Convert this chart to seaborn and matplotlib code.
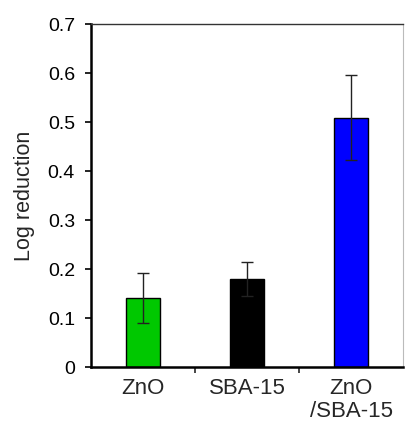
import numpy as np
import pandas as pd
import matplotlib
matplotlib.use("Agg")
import matplotlib.pyplot as plt
import seaborn as sns
from matplotlib.ticker import FixedLocator

# data
samples = ["ZnO", "SBA-15", "ZnO\n/SBA-15"]
log_reduction = [0.142, 0.180, 0.509]
err = [0.051, 0.035, 0.087]
bar_colors = ["#00c800", "#000000", "#0000ff"]

sns.set_theme(style="white")
plt.rcParams['font.family'] = ['Liberation Sans', 'DejaVu Sans']

df = pd.DataFrame({"sample": samples, "val": log_reduction})

fig, ax = plt.subplots(figsize=(4.06, 4.23), dpi=100)
fig.subplots_adjust(left=0.224, right=0.993, top=0.943, bottom=0.132)

sns.barplot(data=df, x="sample", y="val", hue="sample", palette=bar_colors,
            saturation=1, width=0.32, edgecolor="black", linewidth=1.0,
            legend=False, ax=ax)
ax.errorbar(np.arange(len(samples)), log_reduction, yerr=err, fmt="none",
            ecolor="#222222", elinewidth=1.0, capsize=4, capthick=1.0)

ax.set_xlim(-0.5, 2.5)
ax.set_ylim(0, 0.7)
ax.set_yticks(np.arange(0, 0.71, 0.1))
ax.set_yticklabels(["0"] + [f"{v:.1f}" for v in np.arange(0.1, 0.71, 0.1)])
ax.set_xlabel("")
ax.set_ylabel("Log reduction", fontsize=15.5, labelpad=9)

ax.tick_params(axis="y", direction="out", length=4.5, width=1.2, left=True,
               labelsize=14, colors="black", pad=7)
ax.tick_params(axis="x", which="major", length=0, labelsize=16, pad=8)
for lab in ax.get_xticklabels():
    lab.set_linespacing(1.1)
ax.xaxis.set_minor_locator(FixedLocator([0.5, 1.5]))
ax.tick_params(axis="x", which="minor", direction="out", length=4.5, width=1.2,
               bottom=True)

for side in ["left", "bottom"]:
    ax.spines[side].set_color("black")
    ax.spines[side].set_linewidth(1.8)
ax.spines["top"].set_color("#333333")
ax.spines["top"].set_linewidth(1.0)
ax.spines["right"].set_color("#bbbbbb")
ax.spines["right"].set_linewidth(0.8)

fig.savefig("out.png", dpi=100)
